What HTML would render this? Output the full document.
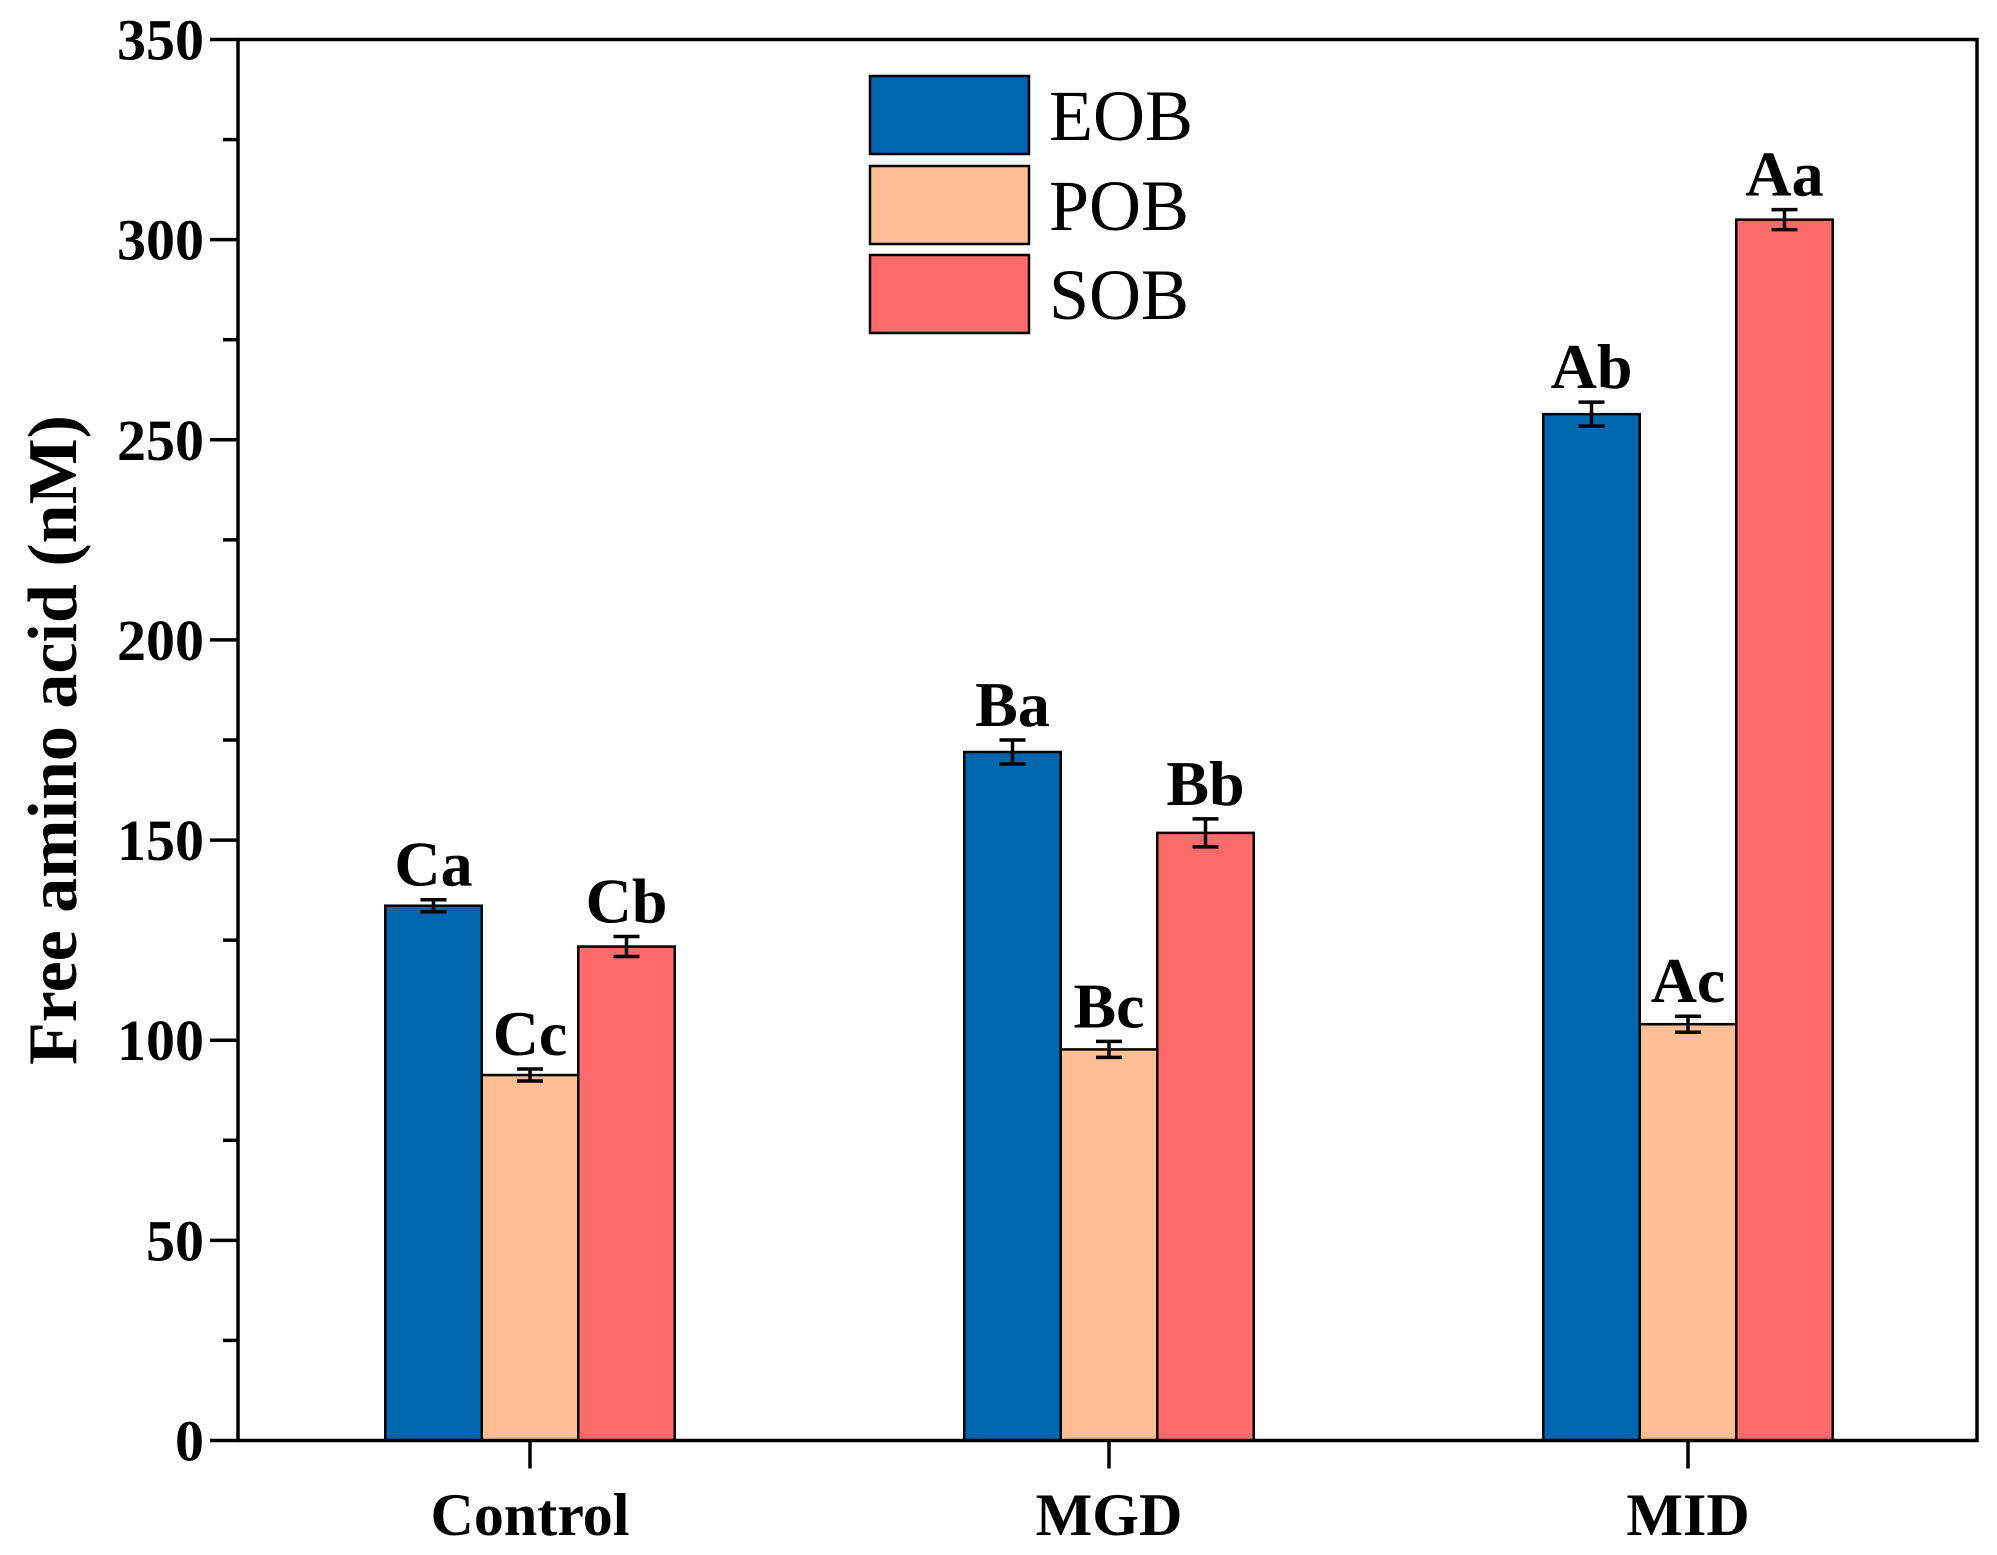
<!DOCTYPE html>
<html><head><meta charset="utf-8"><style>body{margin:0;background:#fff}svg{display:block}</style></head>
<body>
<svg id="chart" width="1997" height="1555" xmlns="http://www.w3.org/2000/svg" font-family="'Liberation Serif', serif"></svg>
<script>
const categories = ["Control", "MGD", "MID"];
const seriesNames = ["EOB", "POB", "SOB"];
const eobValues = [133.6, 172, 256.4];
const pobValues = [91.3, 97.7, 104];
const sobValues = [123.4, 151.8, 305];
const eobErrors = [1.5, 3, 3];
const pobErrors = [1.5, 2, 2];
const sobErrors = [2.5, 3.5, 2.5];
const eobLetters = ["Ca", "Ba", "Ab"];
const pobLetters = ["Cc", "Bc", "Ac"];
const sobLetters = ["Cb", "Bb", "Aa"];
const yTicks = [0, 50, 100, 150, 200, 250, 300, 350];

const NS = "http://www.w3.org/2000/svg";
const svg = document.getElementById("chart");
const L = 238, R = 1977, T = 39.5, B = 1440.5, yMax = 350;
const colors = ["#0066AD", "#FFBE94", "#FF6B6B"];
const barW = 96.5;
function y(v){ return B - v / yMax * (B - T); }
function xc(i){ return 530 + i * 579; }
function mk(tag, attrs, parent){ const e = document.createElementNS(NS, tag); for (const k in attrs) e.setAttribute(k, attrs[k]); (parent||svg).appendChild(e); return e; }

const series = [[eobValues, eobErrors, eobLetters], [pobValues, pobErrors, pobLetters], [sobValues, sobErrors, sobLetters]];
series.forEach((s, si) => {
  s[0].forEach((v, ci) => {
    const x0 = xc(ci) + (si - 1.5) * barW;
    const r = mk("rect", {x: x0, y: y(v), width: barW, height: B - y(v), fill: colors[si], stroke: "#000", "stroke-width": 2.5});
    
    
    const cx = x0 + barW / 2, e = s[1][ci];
    const g = mk("g", {stroke: "#000", "stroke-width": 3.5});
    
    
    mk("line", {x1: cx, x2: cx, y1: y(v + e), y2: y(v - e)}, g);
    mk("line", {x1: cx - 13, x2: cx + 13, y1: y(v + e), y2: y(v + e)}, g);
    mk("line", {x1: cx - 13, x2: cx + 13, y1: y(v - e), y2: y(v - e)}, g);
    const t = mk("text", {x: cx, y: y(v + e) - 14, "text-anchor": "middle", "font-size": 64, "font-weight": "bold"});
    t.textContent = s[2][ci];
    
    
  });
});

const frame = mk("rect", {x: L, y: T, width: R - L, height: B - T, fill: "none", stroke: "#000", "stroke-width": 3.5});



for (let v = 0; v <= yMax; v += 25) {
  const major = v % 50 === 0;
  mk("line", {x1: L - (major ? 28 : 15), x2: L, y1: y(v), y2: y(v), stroke: "#000", "stroke-width": 3.5});
}
yTicks.forEach(v => {
  const t = mk("text", {x: L - 34, y: y(v) + 20, "text-anchor": "end", "font-size": 58, "font-weight": "bold"});
  t.textContent = v;
  
  
});
categories.forEach((c, i) => {
  mk("line", {x1: xc(i), x2: xc(i), y1: B, y2: B + 28, stroke: "#000", "stroke-width": 3.5});
  const t = mk("text", {x: xc(i), y: 1535, "text-anchor": "middle", "font-size": 60, "font-weight": "bold"});
  t.textContent = c;
  
  
});
const yt = mk("text", {x: 0, y: 0, transform: "translate(76,740) rotate(-90)", "text-anchor": "middle", "font-size": 70, "font-weight": "bold"});
yt.textContent = "Free amino acid (nM)";



const legY = [76, 166, 255];
seriesNames.forEach((n, i) => {
  const r = mk("rect", {x: 870, y: legY[i], width: 159, height: 78, fill: colors[i], stroke: "#000", "stroke-width": 2.5});
  
  
  const t = mk("text", {x: 1049, y: legY[i] + 64, "font-size": 72});
  t.textContent = n;
  
  
});
</script>
</body></html>
